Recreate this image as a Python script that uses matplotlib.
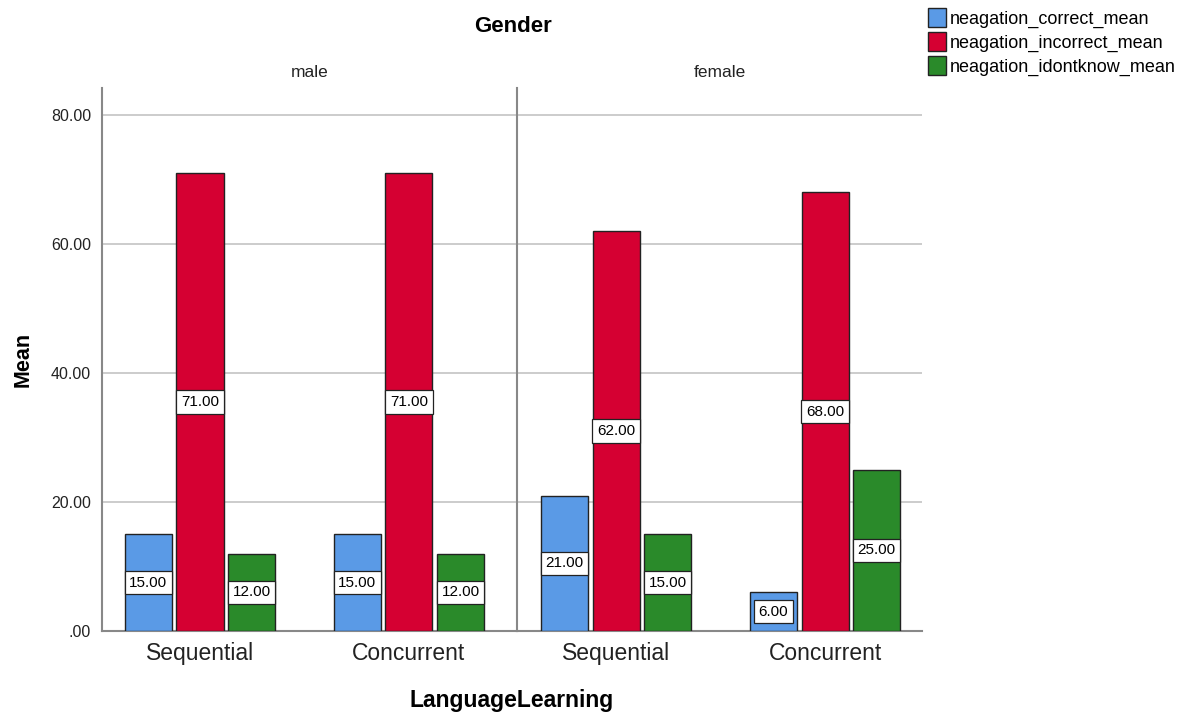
import matplotlib
matplotlib.use('Agg')
import matplotlib.pyplot as plt
import numpy as np

plt.rcParams['font.family'] = ['Liberation Sans', 'DejaVu Sans']

genders = ['male', 'female']
learning = ['Sequential', 'Concurrent']
series = ['neagation_correct_mean', 'neagation_incorrect_mean', 'neagation_idontknow_mean']
colors = ['#5a9ae6', '#d50032', '#2a8a2a']

# means per gender: [series][learning]
male_vals = [[15, 15], [71, 71], [12, 12]]
female_vals = [[21, 6], [62, 68], [15, 25]]
panel_vals = [male_vals, female_vals]

W, H = 1195, 716
fig = plt.figure(figsize=(W / 100, H / 100), dpi=100)

ax_bottom = (H - 631) / H
ax_height = (631 - 88) / H
ax1 = fig.add_axes([102 / W, ax_bottom, 415 / W, ax_height])
ax2 = fig.add_axes([517 / W, ax_bottom, 405 / W, ax_height])
axes = [ax1, ax2]
xlims = [(-0.469, 1.517), (-0.474, 1.464)]

bw = 0.225
step = 0.247
x = np.arange(len(learning))

for i, ax in enumerate(axes):
    vals = panel_vals[i]
    for s in range(len(series)):
        pos = x + (s - 1) * step
        bars = ax.bar(pos, vals[s], width=bw, color=colors[s], edgecolor='#222222',
                      linewidth=1.0, zorder=3, label=series[s])
        for b, v in zip(bars, vals[s]):
            ax.text(b.get_x() + b.get_width() / 2, v / 2, '%.2f' % v,
                    ha='center', va='center', fontsize=11, zorder=4,
                    bbox=dict(boxstyle='square,pad=0.3', fc='white', ec='#222222', lw=0.9))
    ax.set_xlim(*xlims[i])
    ax.set_ylim(0, 84.2)
    ax.set_yticks([0, 20, 40, 60, 80])
    ax.yaxis.grid(True, color='#c4c4c4', linewidth=1.2, zorder=0)
    ax.set_axisbelow(True)
    ax.set_xticks(x)
    ax.set_xticklabels(learning, fontsize=16.5, color='#222222')
    ax.tick_params(axis='x', length=0, pad=8)
    ax.tick_params(axis='y', length=0, pad=8, labelsize=11.5, labelcolor='#222222')
    for sp in ['top', 'right']:
        ax.spines[sp].set_visible(False)
    ax.spines['bottom'].set_color('#888888')
    ax.spines['bottom'].set_linewidth(1.5)
    ax.spines['left'].set_color('#888888')
    ax.spines['left'].set_linewidth(1.5)
    ax.set_title(genders[i], fontsize=12.5, pad=8, color='#222222')

ax1.set_yticklabels(['.00', '20.00', '40.00', '60.00', '80.00'])
ax2.tick_params(axis='y', labelleft=False)

ax1.set_ylabel('Mean', fontsize=15.5, fontweight='bold', labelpad=12)
fig.text(512 / W, 1 - 700 / H, 'LanguageLearning', fontsize=16.5, fontweight='bold',
         ha='center', va='center')
fig.text(513 / W, 1 - 27 / H, 'Gender', fontsize=16, fontweight='bold',
         ha='center', va='center')

handles, labels = ax1.get_legend_handles_labels()
fig.legend(handles, labels, loc='upper left', bbox_to_anchor=(921 / W, 1 - 1 / H),
           frameon=False, fontsize=13, handlelength=1.0, handleheight=1.2,
           handletextpad=0.2, labelspacing=0.25, borderaxespad=0)

fig.savefig('out.png', dpi=100)
plt.close(fig)
